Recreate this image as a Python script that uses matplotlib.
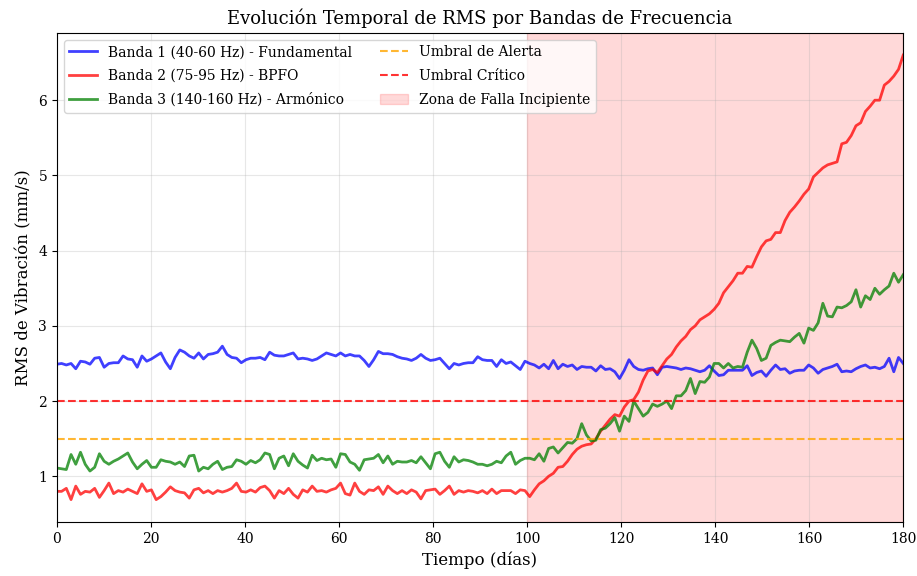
import matplotlib.pyplot as plt
import numpy as np

plt.rcParams['font.family'] = ['DejaVu Serif']

# RMS per band, one reading per day
banda1 = [2.49, 2.50, 2.48, 2.50, 2.43, 2.53, 2.52, 2.49, 2.57, 2.58,
          2.45, 2.50, 2.51, 2.51, 2.60, 2.56, 2.55, 2.45, 2.60, 2.53,
          2.56, 2.60, 2.64, 2.52, 2.43, 2.58, 2.68, 2.65, 2.60, 2.57,
          2.64, 2.56, 2.62, 2.63, 2.65, 2.73, 2.62, 2.58, 2.57, 2.51,
          2.55, 2.57, 2.57, 2.58, 2.55, 2.65, 2.61, 2.60, 2.60, 2.62,
          2.64, 2.56, 2.57, 2.56, 2.54, 2.56, 2.60, 2.64, 2.62, 2.60,
          2.64, 2.60, 2.62, 2.60, 2.60, 2.54, 2.46, 2.55, 2.66, 2.63,
          2.63, 2.62, 2.59, 2.57, 2.56, 2.54, 2.57, 2.62, 2.57, 2.54,
          2.55, 2.57, 2.50, 2.43, 2.50, 2.48, 2.50, 2.51, 2.51, 2.59,
          2.55, 2.54, 2.54, 2.46, 2.55, 2.50, 2.52, 2.47, 2.42, 2.53,
          2.50, 2.48, 2.44, 2.49, 2.43, 2.54, 2.43, 2.49, 2.46, 2.48,
          2.42, 2.46, 2.45, 2.45, 2.40, 2.47, 2.42, 2.43, 2.39, 2.30,
          2.41, 2.55, 2.46, 2.42, 2.41, 2.43, 2.44, 2.35, 2.45, 2.46,
          2.45, 2.44, 2.42, 2.44, 2.43, 2.41, 2.39, 2.41, 2.47, 2.40,
          2.34, 2.35, 2.41, 2.41, 2.41, 2.41, 2.47, 2.34, 2.38, 2.40,
          2.33, 2.41, 2.48, 2.42, 2.43, 2.37, 2.40, 2.41, 2.41, 2.48,
          2.44, 2.37, 2.42, 2.44, 2.46, 2.49, 2.39, 2.40, 2.39, 2.43,
          2.46, 2.48, 2.44, 2.45, 2.43, 2.46, 2.57, 2.39, 2.58, 2.50]

banda2 = [0.80, 0.80, 0.84, 0.69, 0.87, 0.76, 0.80, 0.79, 0.84, 0.72,
          0.81, 0.91, 0.77, 0.81, 0.79, 0.83, 0.80, 0.77, 0.90, 0.80,
          0.82, 0.69, 0.73, 0.79, 0.86, 0.81, 0.79, 0.78, 0.71, 0.82,
          0.84, 0.78, 0.81, 0.77, 0.81, 0.79, 0.81, 0.84, 0.91, 0.80,
          0.79, 0.82, 0.79, 0.85, 0.87, 0.81, 0.71, 0.81, 0.77, 0.84,
          0.76, 0.71, 0.82, 0.79, 0.87, 0.80, 0.81, 0.79, 0.82, 0.84,
          0.91, 0.77, 0.75, 0.91, 0.80, 0.76, 0.82, 0.81, 0.86, 0.76,
          0.87, 0.81, 0.77, 0.81, 0.77, 0.82, 0.79, 0.70, 0.81, 0.82,
          0.83, 0.76, 0.81, 0.87, 0.76, 0.81, 0.79, 0.81, 0.80, 0.78,
          0.81, 0.77, 0.83, 0.77, 0.81, 0.81, 0.81, 0.77, 0.82, 0.81,
          0.73, 0.82, 0.90, 0.94, 1.00, 1.04, 1.12, 1.13, 1.20, 1.29,
          1.36, 1.40, 1.42, 1.43, 1.50, 1.60, 1.68, 1.76, 1.82, 1.80,
          1.92, 2.00, 2.02, 2.12, 2.28, 2.40, 2.42, 2.38, 2.47, 2.56,
          2.62, 2.72, 2.80, 2.86, 2.95, 3.00, 3.08, 3.12, 3.16, 3.22,
          3.30, 3.44, 3.52, 3.60, 3.70, 3.70, 3.79, 3.78, 3.92, 4.05,
          4.13, 4.15, 4.24, 4.24, 4.40, 4.51, 4.58, 4.66, 4.75, 4.82,
          4.98, 5.04, 5.10, 5.14, 5.16, 5.18, 5.42, 5.44, 5.53, 5.66,
          5.70, 5.85, 5.92, 6.00, 6.00, 6.20, 6.25, 6.32, 6.41, 6.60]

banda3 = [1.11, 1.10, 1.09, 1.29, 1.16, 1.32, 1.16, 1.07, 1.12, 1.30,
          1.20, 1.16, 1.20, 1.23, 1.27, 1.31, 1.19, 1.10, 1.16, 1.21,
          1.12, 1.12, 1.22, 1.20, 1.19, 1.16, 1.19, 1.13, 1.27, 1.28,
          1.07, 1.12, 1.10, 1.16, 1.20, 1.09, 1.12, 1.13, 1.22, 1.20,
          1.16, 1.21, 1.18, 1.22, 1.31, 1.29, 1.10, 1.24, 1.27, 1.14,
          1.30, 1.20, 1.15, 1.11, 1.28, 1.21, 1.24, 1.22, 1.23, 1.12,
          1.30, 1.29, 1.19, 1.16, 1.08, 1.22, 1.23, 1.24, 1.29, 1.18,
          1.27, 1.16, 1.20, 1.19, 1.19, 1.21, 1.18, 1.26, 1.18, 1.10,
          1.30, 1.32, 1.20, 1.12, 1.26, 1.19, 1.22, 1.21, 1.19, 1.16,
          1.16, 1.14, 1.16, 1.20, 1.18, 1.27, 1.32, 1.16, 1.21, 1.24,
          1.24, 1.22, 1.30, 1.20, 1.37, 1.39, 1.31, 1.38, 1.45, 1.44,
          1.50, 1.70, 1.55, 1.47, 1.48, 1.62, 1.64, 1.70, 1.78, 1.60,
          1.80, 1.73, 2.00, 1.90, 1.80, 1.85, 1.96, 1.93, 1.96, 2.00,
          1.90, 2.07, 2.07, 2.14, 2.30, 2.10, 2.26, 2.25, 2.32, 2.50,
          2.50, 2.44, 2.50, 2.44, 2.46, 2.45, 2.65, 2.81, 2.70, 2.54,
          2.57, 2.74, 2.78, 2.81, 2.80, 2.79, 2.85, 2.90, 2.77, 2.97,
          2.94, 3.04, 3.30, 3.13, 3.12, 3.25, 3.24, 3.27, 3.32, 3.48,
          3.25, 3.40, 3.35, 3.50, 3.42, 3.48, 3.53, 3.70, 3.58, 3.68]

umbral_alerta = 1.5
umbral_critico = 2.0
inicio_falla = 100
dias_total = 180

t = np.linspace(0, dias_total, len(banda1))

fig, ax = plt.subplots(figsize=(9.17, 5.76), dpi=100)
fig.subplots_adjust(left=0.062, right=0.985, top=0.943, bottom=0.094)

ax.plot(t, banda1, color='blue', alpha=0.75, linewidth=2, label='Banda 1 (40-60 Hz) - Fundamental')
ax.plot(t, banda2, color='red', alpha=0.75, linewidth=2, label='Banda 2 (75-95 Hz) - BPFO')
ax.plot(t, banda3, color='green', alpha=0.75, linewidth=2, label='Banda 3 (140-160 Hz) - Armónico')
ax.axhline(umbral_alerta, color='orange', linestyle='--', linewidth=1.5, alpha=0.8, label='Umbral de Alerta')
ax.axhline(umbral_critico, color='red', linestyle='--', linewidth=1.5, alpha=0.8, label='Umbral Crítico')
ax.axvspan(inicio_falla, dias_total, color='red', alpha=0.15, label='Zona de Falla Incipiente')

ax.set_xlim(0, dias_total)
ax.set_xlabel('Tiempo (días)', fontsize=12)
ax.set_ylabel('RMS de Vibración (mm/s)', fontsize=12)
ax.set_title('Evolución Temporal de RMS por Bandas de Frecuencia', fontsize=13)
ax.grid(True, alpha=0.3)
ax.legend(loc='upper left', ncol=2, fontsize=10, labelspacing=0.7)

plt.savefig('out.png', dpi=100)
